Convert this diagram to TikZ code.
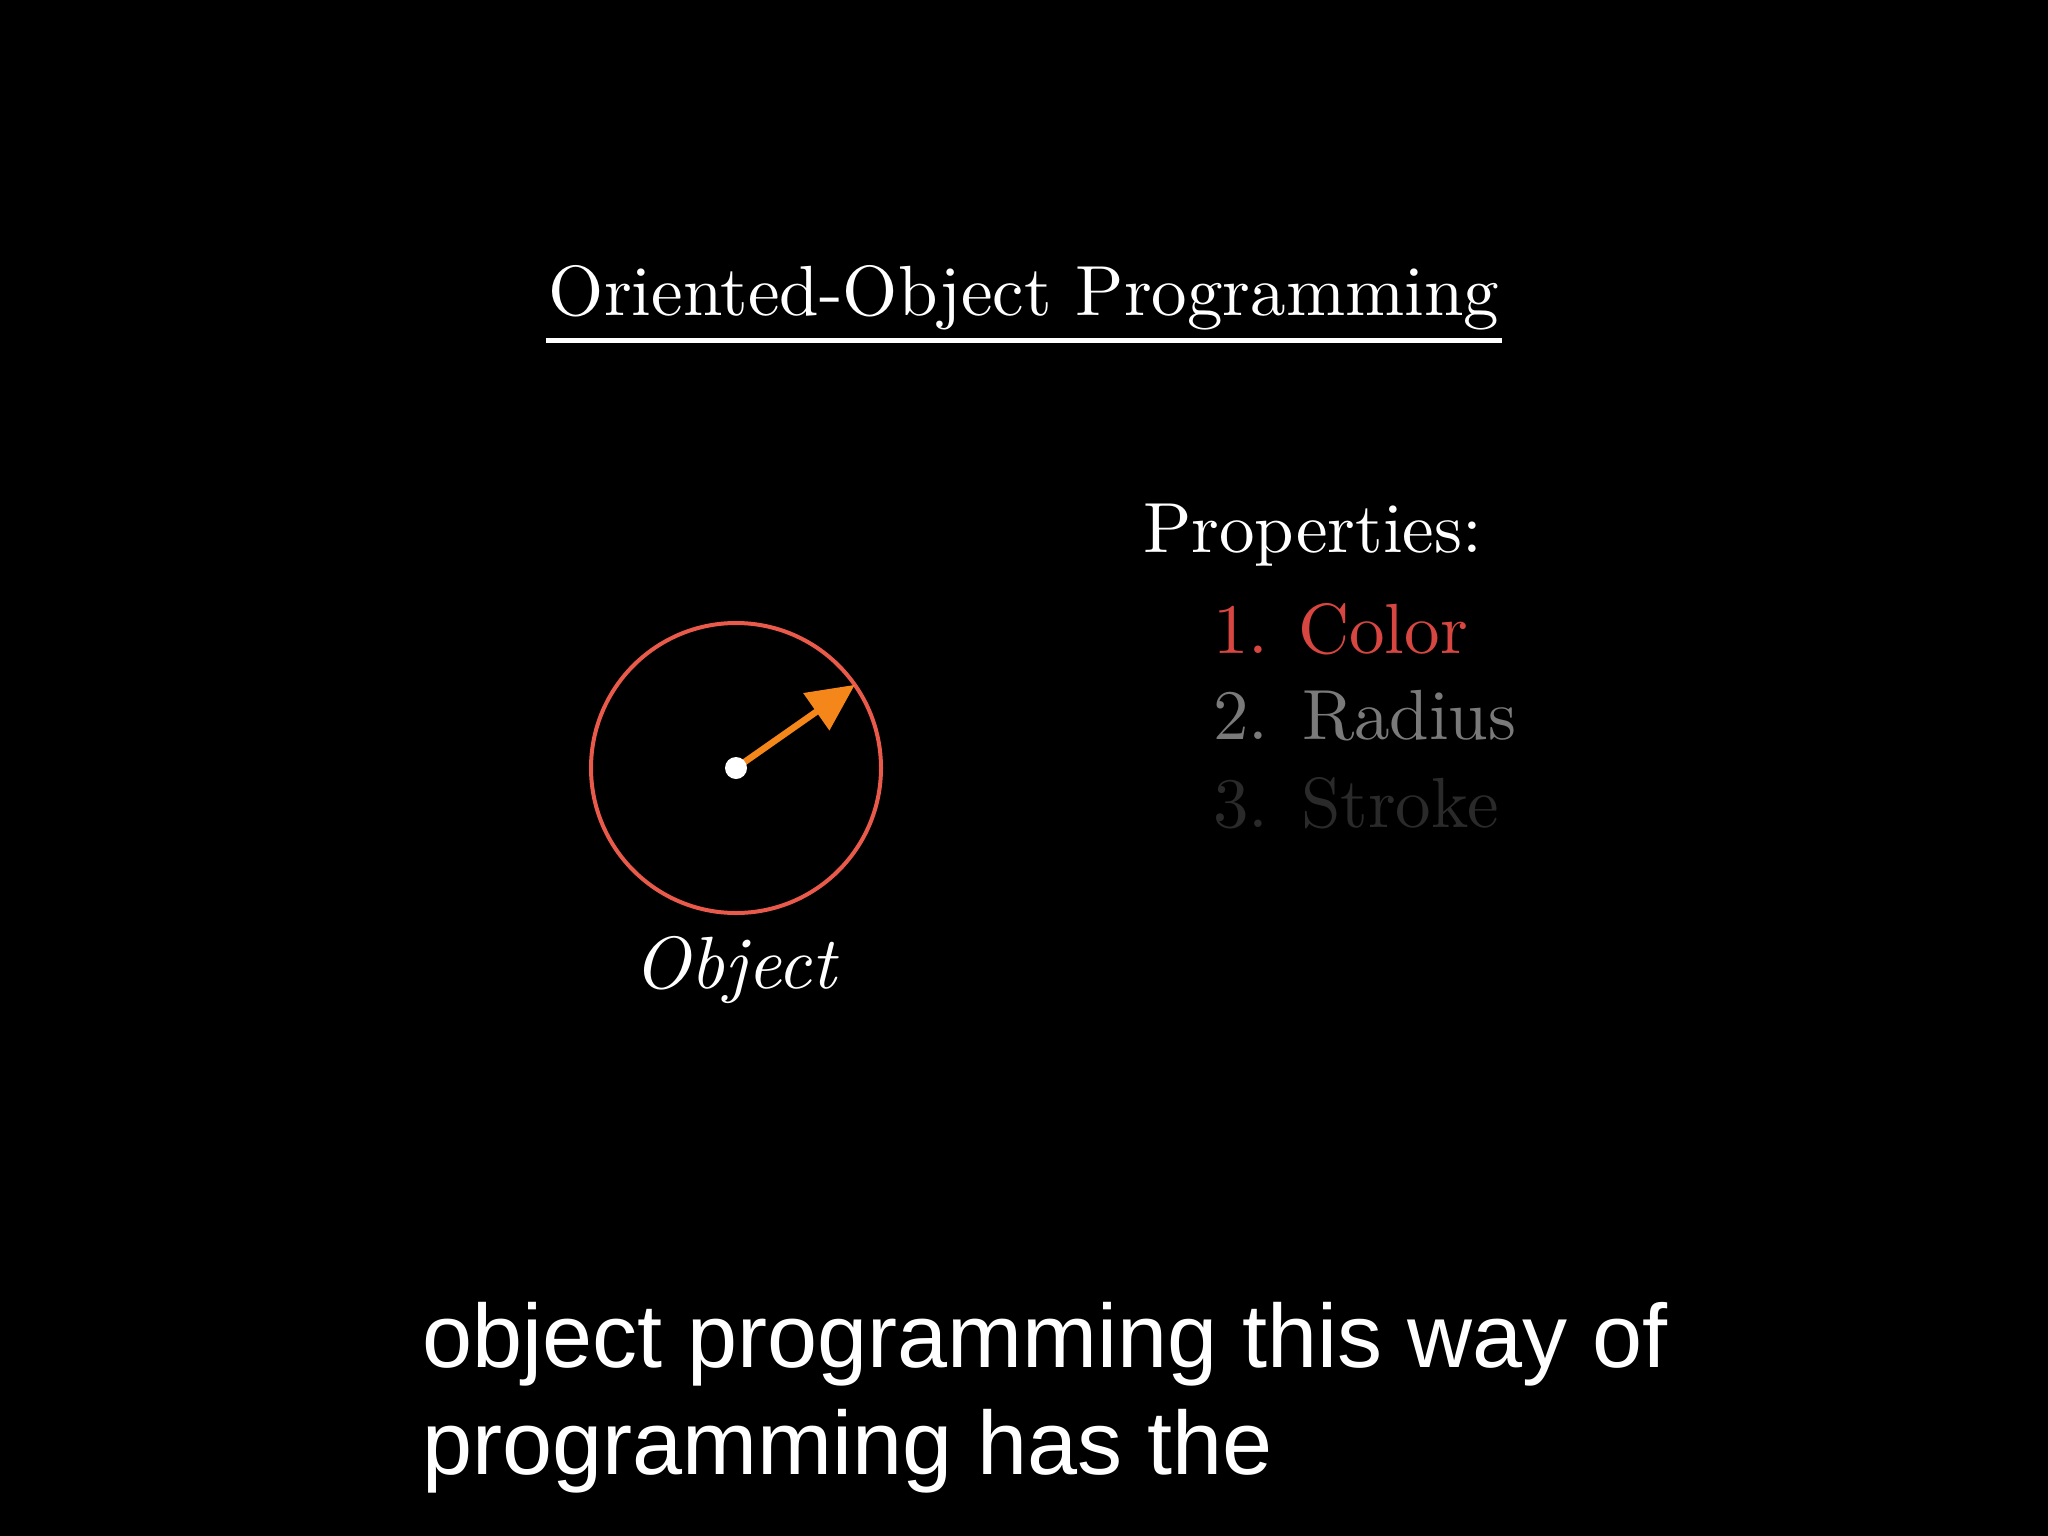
\documentclass[tikz,border=0pt]{standalone}
\usepackage{fontspec}
\setmainfont{lmroman10-regular.otf}[ItalicFont=lmroman10-italic.otf, BoldFont=lmroman10-bold.otf]
\newfontfamily\capfont{Liberation Sans}
\usetikzlibrary{arrows.meta}
\definecolor{circred}{HTML}{E95A4B}
\definecolor{arroworange}{HTML}{F5871A}
\definecolor{itemred}{RGB}{215,70,65}
\definecolor{itemgray}{RGB}{122,122,122}
\definecolor{itemdark}{RGB}{42,42,42}
\tikzset{
  txt/.style={inner sep=0pt, outer sep=0pt, text=white},
  serifbig/.style={font=\fontsize{71}{85}\selectfont},
  captxt/.style={txt, anchor=base west, font=\capfont\fontsize{90}{108}\selectfont},
  itemlbl/.style={txt, anchor=base west, serifbig},
}
\begin{document}
\begin{tikzpicture}[x=1pt,y=-1pt]
\fill[black] (0,0) rectangle (2048,1536);
\useasboundingbox (0,0) rectangle (2048,1536);
% title
\node[txt, serifbig, anchor=base] (title) at (1024,315) {Oriented-Object Programming};
\coordinate (ulA) at (546,340);
\coordinate (ulB) at (1502,340);
\draw[white, line width=5pt] (ulA) -- (ulB);
% object circle
\node[draw=circred, line width=4pt, circle, minimum size=290pt, inner sep=0pt, outer sep=0pt] (obj) at (736,768) {};
\coordinate (tipc) at (obj.35);
\draw[arroworange, line width=6.5pt, -{Triangle[length=47pt,width=44pt]}] (obj.center) -- (tipc);
\node[circle, fill=white, minimum size=22pt, inner sep=0pt] (dot) at (obj.center) {};
\node[txt, anchor=base, font=\itshape\fontsize{74}{88}\selectfont] (objlbl) at (735,988) {Object};
% properties
\node[txt, serifbig, anchor=base west] (props) at (1143,552) {Properties:};
\node[itemlbl, text=itemred] (n1) at (1213,653) {1.};
\node[itemlbl, text=itemred] (t1) at (1298,653) {Color};
\node[itemlbl, text=itemgray] (n2) at (1213,739) {2.};
\node[itemlbl, text=itemgray] (t2) at (1302,739) {Radius};
\node[itemlbl, text=itemdark] (n3) at (1213,827) {3.};
\node[itemlbl, text=itemdark] (t3) at (1301,827) {Stroke};
% caption
\node[captxt] (cap1) at (422,1367) {object programming this way of};
\node[captxt] (cap2) at (422,1474) {programming has the};
\end{tikzpicture}
\end{document}
